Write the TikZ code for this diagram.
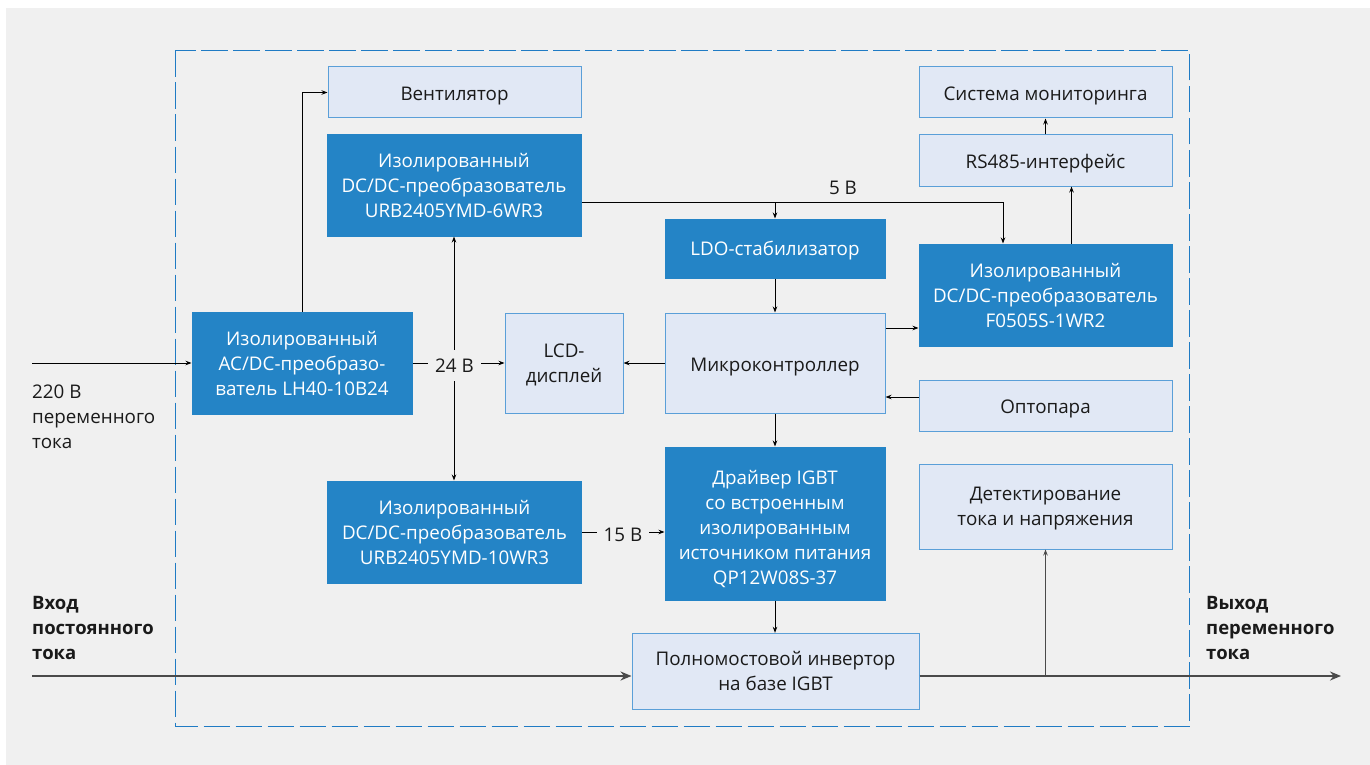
\documentclass[tikz,border=0pt]{standalone}
\usepackage{fontspec}
\setmainfont{Open Sans}
\usetikzlibrary{arrows.meta}
\definecolor{bgc}{HTML}{F0F0F0}
\definecolor{dblue}{HTML}{2484C6}
\definecolor{lblue}{HTML}{E1E8F5}
\definecolor{lborder}{HTML}{5A9FD8}
\definecolor{dashc}{HTML}{1F7BC4}
\definecolor{txt}{HTML}{1A1A1A}
\definecolor{busc}{HTML}{4A4A4A}
\tikzset{
  box/.style={rectangle, line width=1pt, inner sep=0pt, align=center,
    font=\fontsize{18.8}{25}\selectfont, text depth=0pt},
  one/.style={text height=16pt, text depth=0pt},
  dark/.style={box, fill=dblue, draw=dblue, text=white},
  light/.style={box, fill=lblue, draw=lborder, text=txt},
  conn/.style={draw=black, line width=0.9pt, -{Stealth[length=6pt,width=4.5pt]}},
  bus/.style={draw=busc, line width=2.2pt, -{Stealth[length=11pt,width=9pt]}},
  lbl/.style={inner sep=0pt, text=txt, font=\fontsize{18.8}{25}\selectfont},
  vlbl/.style={lbl, fill=bgc, inner xsep=7pt, inner ysep=9pt},
  blbl/.style={inner sep=0pt, text=txt, font=\fontsize{18.5}{25}\selectfont\bfseries, align=left, anchor=west}
}
\begin{document}
\begin{tikzpicture}[x=1pt,y=-1pt]
\useasboundingbox (0,0) rectangle (1370,765);
\fill[white] (0,0) rectangle (1370,765);
\fill[bgc] (6,8) rectangle (1370,765);
\draw[dashc, line width=1.3pt, dash pattern=on 26.5pt off 5.5pt] (175.5,50.5) rectangle (1189.5,726.5);

% boxes
\node[light, one, minimum width=253pt, minimum height=51pt] (fan) at (454.5,92.5) {Вентилятор};
\node[dark, minimum width=254pt, minimum height=101pt] (dc6) at (454,185.5) {Изолированный\\DC/DC-преобразователь\\URB2405YMD-6WR3};
\node[dark, minimum width=220pt, minimum height=102pt] (acdc) at (302,363) {Изолированный\\AC/DC-преобразо-\\ватель LH40-10B24};
\node[light, minimum width=118pt, minimum height=100pt] (lcd) at (564,363) {LCD-\\дисплей};
\node[dark, minimum width=220pt, minimum height=59pt] (ldo) at (775,248.5) {LDO-стабилизатор};
\node[dark, minimum width=253pt, minimum height=102pt] (f05) at (1045.5,295) {Изолированный\\DC/DC-преобразователь\\F0505S-1WR2};
\node[light, one, minimum width=220pt, minimum height=100pt] (mcu) at (775,363) {Микроконтроллер};
\node[light, one, minimum width=253pt, minimum height=51pt] (opto) at (1045.5,405.5) {Оптопара};
\node[light, one, minimum width=253pt, minimum height=51pt] (mon) at (1045.5,92.5) {Система мониторинга};
\node[light, one, minimum width=253pt, minimum height=51pt] (rs) at (1045.5,160.5) {RS485-интерфейс};
\node[light, minimum width=253pt, minimum height=85pt] (det) at (1045.5,506.5) {Детектирование\\тока и напряжения};
\node[dark, text height=121pt, text depth=0pt, minimum width=220pt, minimum height=153pt] (drv) at (775,523.5) {Драйвер IGBT\\со встроенным\\изолированным\\источником питания\\QP12W08S-37};
\node[dark, minimum width=254pt, minimum height=102pt] (dc10) at (454.5,532) {Изолированный\\DC/DC-преобразователь\\URB2405YMD-10WR3};
\node[light, minimum width=287pt, minimum height=76pt] (inv) at (775.5,671.3) {Полномостовой инвертор\\на базе IGBT};

% connectors
\coordinate (acin) at (32,363);
\draw[conn] (acin) -- (acdc.west);
\draw[conn] (acdc.north) |- (fan.west);
\draw[conn] (acdc.east) -- (lcd.west);
\draw[conn, {Stealth[length=6pt,width=4.5pt]}-{Stealth[length=6pt,width=4.5pt]}] (dc6.south) -- (dc6.south |- dc10.north);
\node[vlbl] (v24) at (454.5,365.5) {24 В};

\coordinate (bus5) at ([yshift=-16.5pt]dc6.east);
\draw[conn] (bus5) -| ([xshift=-42.5pt]f05.north);
\draw[conn] (bus5 -| ldo.north) -- (ldo.north);
\node[lbl] (v5) at (843,188) {5 В};

\draw[conn] (ldo.south) -- (mcu.north);
\draw[conn] (mcu.west) -- (lcd.east);
\coordinate (mf) at ([yshift=35pt]mcu.east);
\draw[conn] (mf) -- (mf -| f05.west);
\coordinate (op) at ([yshift=8.5pt]opto.west);
\draw[conn] (op) -- (op -| mcu.east);
\coordinate (fr) at ([xshift=26pt]f05.north);
\draw[conn] (fr) -- (fr |- rs.south);
\draw[conn] (rs.north) -- (mon.south);
\draw[conn] (mcu.south) -- (drv.north);
\draw[conn] (dc10.east) -- (dc10.east -| drv.west);
\node[vlbl, inner ysep=4pt] (v15) at (623,534.5) {15 В};
\draw[conn] (drv.south) -- (drv.south |- inv.north);

\coordinate (dcin) at (32,676);
\coordinate (acout) at (1341,676);
\draw[bus] (dcin) -- (dcin -| inv.west);
\draw[bus] (dcin -| inv.east) -- (acout);
\draw[conn, draw=busc] (acout -| det.south) -- (det.south);

% outer labels
\node[lbl, align=left, anchor=west] (l220) at (32,416.5) {220 В\\переменного\\тока};
\node[blbl] (ldc) at (32,627.5) {Вход\\постоянного\\тока};
\node[blbl] (lac) at (1206,627.5) {Выход\\переменного\\тока};
\end{tikzpicture}
\end{document}
